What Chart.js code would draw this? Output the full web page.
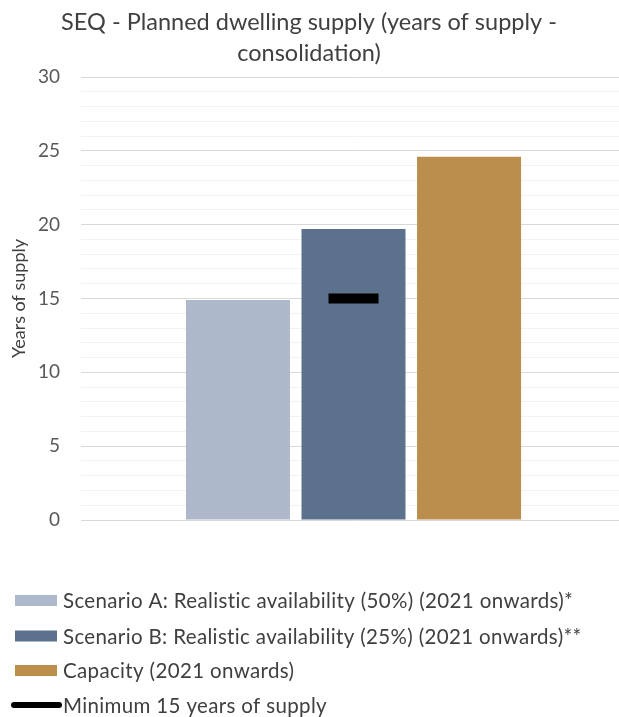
<!DOCTYPE html>
<html>
<head>
<meta charset="utf-8">
<script src="https://cdn.jsdelivr.net/npm/chart.js@4/dist/chart.umd.min.js"></script>
<style>
  html, body { margin: 0; padding: 0; background: #fff; overflow: hidden; }
  #wrap { width: 626px; height: 717px; position: relative; }
</style>
</head>
<body>
<div id="wrap"><canvas id="chart"></canvas></div>
<script>
// Planned dwelling supply for SEQ, in years of supply (consolidation)
const categories = ['SEQ'];
const seriesLabels = [
  'Scenario A: Realistic availability (50%) (2021 onwards)*',
  'Scenario B: Realistic availability (25%) (2021 onwards)**',
  'Capacity (2021 onwards)',
  'Minimum 15 years of supply'
];
const scenarioA = [14.9];
const scenarioB = [19.7];
const capacity = [24.6];
const minimumSupply = [15];
const yTickLabels = ['0', '5', '10', '15', '20', '25', '30'];

const colours = ['#adb9ca', '#5c718b', '#bb8e4e', '#000000'];
const FONT = 'Lato, "Open Sans", sans-serif';

// Legend drawn as a single column under the plot
const columnLegend = {
  id: 'columnLegend',
  afterDraw(chart) {
    const ctx = chart.ctx;
    const rows = [600.5, 636, 670.5, 705];
    ctx.save();
    ctx.font = '20.5px ' + FONT;
    if ('letterSpacing' in ctx) ctx.letterSpacing = '0.35px';
    ctx.textBaseline = 'middle';
    ctx.textAlign = 'left';
    chart.data.datasets.forEach((ds, i) => {
      const y = rows[i];
      if (ds.type === 'line') {
        ctx.strokeStyle = ds.pointBorderColor;
        ctx.lineWidth = 6;
        ctx.lineCap = 'round';
        ctx.beginPath();
        ctx.moveTo(14, y);
        ctx.lineTo(59, y);
        ctx.stroke();
      } else {
        ctx.fillStyle = ds.backgroundColor;
        ctx.fillRect(15, y - 5.5, 42, 11);
      }
      ctx.fillStyle = '#404040';
      ctx.fillText(ds.label, 63, y + 1);
    });
    ctx.restore();
  }
};

new Chart(document.getElementById('chart'), {
  data: {
    labels: categories,
    datasets: [
      { type: 'bar', label: seriesLabels[0], data: scenarioA, backgroundColor: colours[0], order: 2 },
      { type: 'bar', label: seriesLabels[1], data: scenarioB, backgroundColor: colours[1], order: 2 },
      { type: 'bar', label: seriesLabels[2], data: capacity, backgroundColor: colours[2], order: 2 },
      {
        type: 'line', label: seriesLabels[3], data: minimumSupply, order: 1,
        showLine: false, pointStyle: 'line', pointRadius: 25,
        pointBorderWidth: 10, pointBorderColor: colours[3], pointBackgroundColor: colours[3]
      }
    ]
  },
  options: {
    responsive: true,
    maintainAspectRatio: false,
    animation: false,
    events: [],
    datasets: { bar: { barPercentage: 0.9, categoryPercentage: 0.636 } },
    layout: { autoPadding: false, padding: { left: -8, right: 0, top: 0, bottom: 197 } },
    plugins: {
      legend: { display: false },
      tooltip: { enabled: false },
      title: {
        display: true,
        text: ['SEQ - Planned dwelling supply (years of supply -', 'consolidation)'],
        color: '#404040',
        font: { family: FONT, size: 23.5, weight: 'normal', lineHeight: 1.32 },
        padding: { top: 6.5, bottom: 8.5 }
      }
    },
    scales: {
      x: { display: false, offset: true },
      y: {
        min: 0, max: 30,
        afterFit(scale) { scale.width = 89; },
        border: { display: false },
        grid: {
          drawTicks: false,
          color: ctx => (ctx.tick && ctx.tick.value % 5 === 0) ? '#d9d9d9' : '#f2f2f2',
          lineWidth: 1
        },
        ticks: {
          stepSize: 1,
          autoSkip: false,
          padding: 21,
          color: '#595959',
          font: { family: FONT, size: 19 },
          callback: v => yTickLabels.includes(String(v)) ? String(v) : ''
        },
        title: {
          display: true,
          text: 'Years of supply',
          color: '#404040',
          font: { family: FONT, size: 18 },
          padding: { top: 16, bottom: 0 }
        }
      }
    }
  },
  plugins: [columnLegend]
});
</script>
</body>
</html>
